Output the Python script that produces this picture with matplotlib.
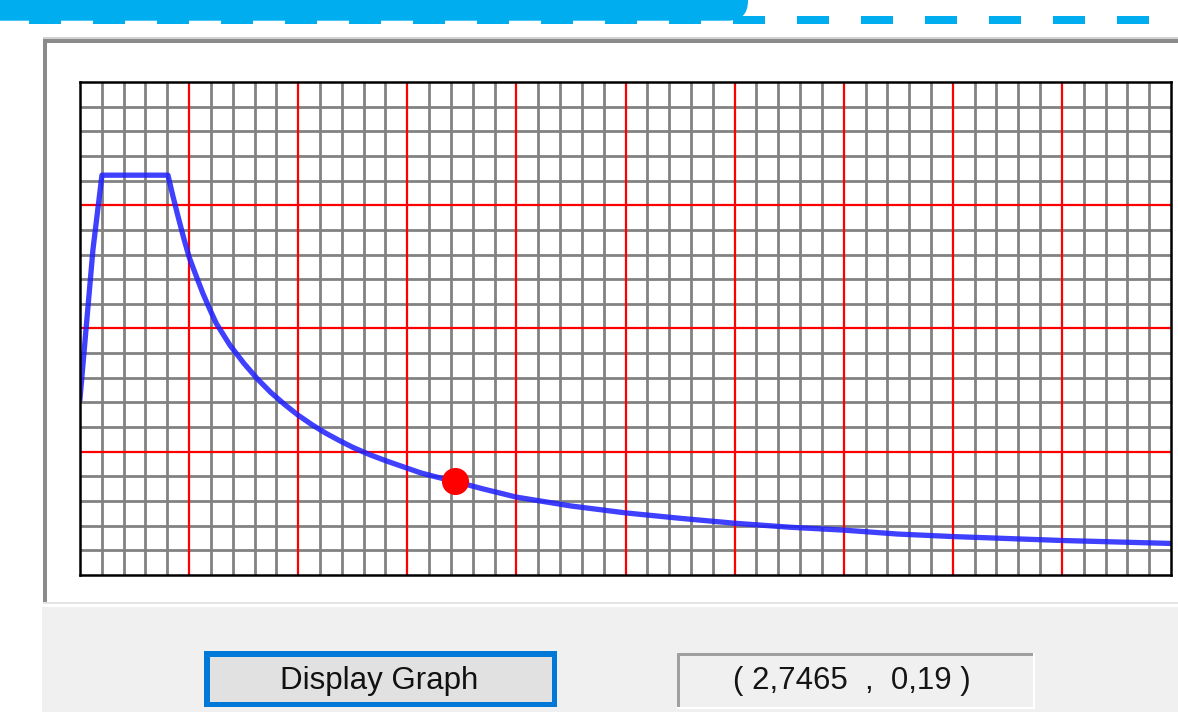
import matplotlib
matplotlib.use("Agg")
import matplotlib.pyplot as plt
from matplotlib.patches import Rectangle, FancyBboxPatch
import numpy as np

plt.rcParams["font.family"] = ["Liberation Sans", "DejaVu Sans"]

# spectrum curve (period, spectral value)
period = [0.0, 0.095, 0.132, 0.161, 0.645, 0.68, 0.72, 0.76, 0.80, 0.85,
          0.90, 0.95, 1.00, 1.10, 1.20, 1.30, 1.40, 1.50, 1.60, 1.70,
          1.80, 1.90, 2.00, 2.125, 2.25, 2.375, 2.50, 2.625, 2.7465, 2.95,
          3.20, 3.40, 3.60, 3.80, 4.00, 4.40, 4.80, 5.20, 5.60, 6.00,
          6.40, 6.80, 7.20, 7.60, 8.00]
spectrum = [0.358, 0.660, 0.745, 0.811, 0.811, 0.770, 0.726, 0.684, 0.645, 0.608,
            0.572, 0.540, 0.510, 0.466, 0.430, 0.398, 0.370, 0.346, 0.324, 0.305,
            0.288, 0.273, 0.259, 0.244, 0.231, 0.219, 0.207, 0.198, 0.190, 0.175,
            0.158, 0.149, 0.140, 0.133, 0.126, 0.115, 0.105, 0.097, 0.091, 0.083,
            0.078, 0.074, 0.070, 0.067, 0.064]

# selected point
sel_x = 2.7465
sel_y = 0.19

x_max, y_max = 8.0, 1.0
x_major, x_minor = 0.8, 0.16
y_major, y_minor = 0.25, 0.05

W, H = 1178, 712
fig = plt.figure(figsize=(W / 100, H / 100), dpi=100)
fig.patch.set_facecolor("white")

# background layer in pixel coordinates (y down)
bg = fig.add_axes([0, 0, 1, 1], zorder=0)
bg.set_xlim(0, W)
bg.set_ylim(H, 0)
bg.axis("off")

# blue header banner with dashed rule
bg.add_patch(FancyBboxPatch((-60, -60), 808, 80.7,
                            boxstyle="round,pad=0,rounding_size=20",
                            fc="#00aeef", ec="none"))
for x0 in range(29, 1151, 64):
    bg.add_patch(Rectangle((x0, 16), 32, 7.5, fc="#00aeef", ec="none"))

# group panel frame
bg.add_patch(Rectangle((42.5, 37), W, 1.8, fc="#d2d2d2", ec="none"))
bg.add_patch(Rectangle((42.5, 38.8), W, 4.2, fc="#8a8a8a", ec="none"))
bg.add_patch(Rectangle((42.5, 38.8), 4.2, 563, fc="#8a8a8a", ec="none"))
bg.add_patch(Rectangle((42.5, 601.5), W, 2.5, fc="#e4e4e4", ec="none"))
bg.add_patch(Rectangle((42.3, 606.5), W, H, fc="#f0f0f0", ec="none"))

# button
bg.add_patch(Rectangle((204, 651), 353, 56, fc="#0078d7", ec="none"))
bg.add_patch(Rectangle((209.5, 656.5), 342, 45, fc="#e1e1e1", ec="none"))
bg.text(379, 681, "Display Graph", ha="center", va="center",
        fontsize=22.5, color="#111111")

# coordinate read-out box
bg.add_patch(Rectangle((677, 653), 358, 56, fc="white", ec="none"))
bg.add_patch(Rectangle((677, 653), 355.5, 53.5, fc="#a0a0a0", ec="none"))
bg.add_patch(Rectangle((679.5, 656), 353, 50.5, fc="#f0f0f0", ec="none"))
label = "( {}  ,  {} )".format(str(sel_x).replace(".", ","), str(sel_y).replace(".", ","))
bg.text(852, 681, label, ha="center", va="center", fontsize=22.5, color="#151515")

# graph area
ax = fig.add_axes([80 / W, 1 - 575 / H, 1091 / W, 493 / H], zorder=1)
ax.set_facecolor("white")
ax.set_xlim(0, x_max)
ax.set_ylim(0, y_max)
x_maj = np.arange(0, x_max + 1e-9, x_major)
y_maj = np.arange(0, y_max + 1e-9, y_major)
ax.set_xticks(x_maj)
ax.set_yticks(y_maj)
ax.set_xticks(np.arange(0, x_max + 1e-9, x_minor), minor=True)
ax.set_yticks(np.arange(0, y_max + 1e-9, y_minor), minor=True)
ax.tick_params(which="both", length=0, labelbottom=False, labelleft=False)
ax.grid(which="minor", color="#828282", linewidth=2.0)
ax.set_axisbelow(True)
ax.vlines(x_maj[1:-1], 0, y_max, color="#ff0000", linewidth=1.6, zorder=1.5)
ax.hlines(y_maj[1:-1], 0, x_max, color="#ff0000", linewidth=1.6, zorder=1.5)
for s in ax.spines.values():
    s.set_color("black")
    s.set_linewidth(1.8)
    s.set_zorder(5)

ax.plot(period, spectrum, color="#1e1eff", linewidth=3.8, alpha=0.85,
        solid_joinstyle="round", zorder=3)
ax.plot([sel_x], [sel_y], "o", color="#ff0000", markersize=19.5,
        markeredgewidth=0, zorder=4, clip_on=False)

fig.savefig("out.png", dpi=100)
